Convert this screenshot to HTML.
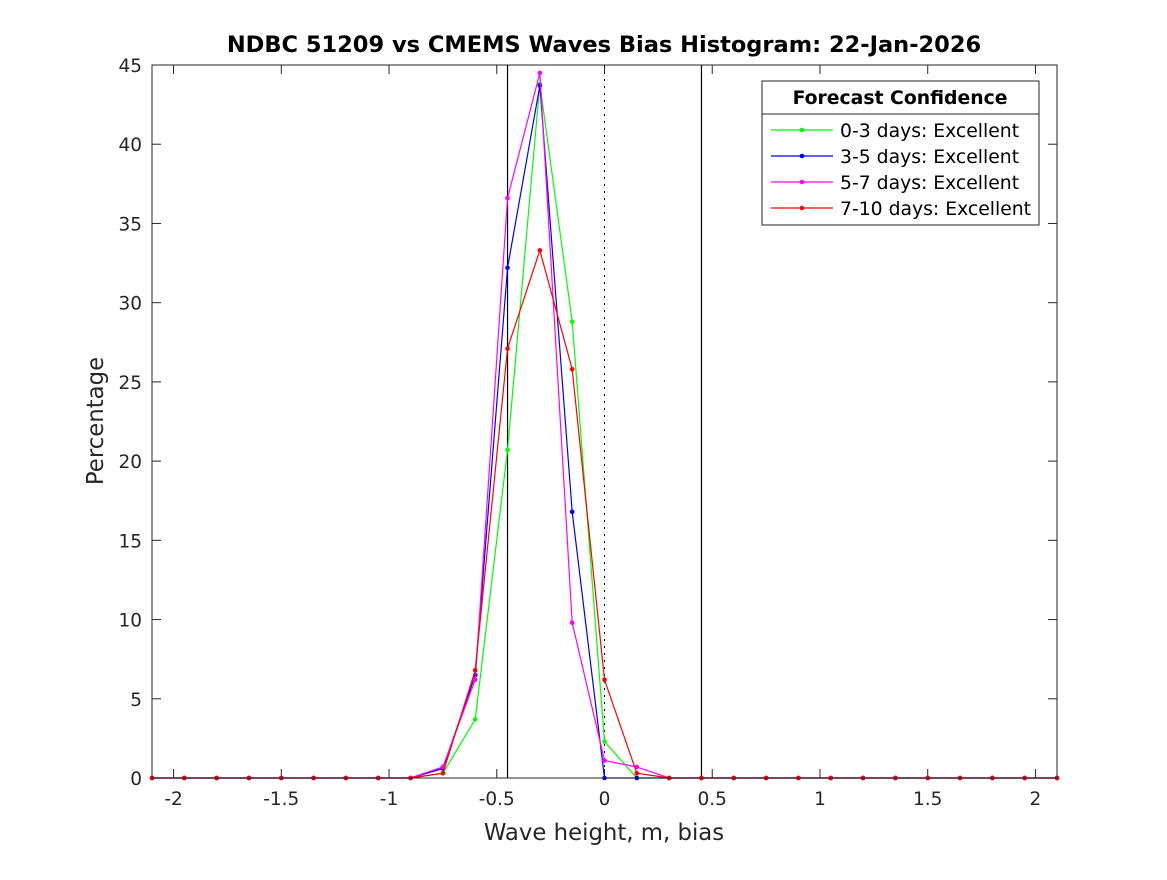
<!DOCTYPE html>
<html><head><meta charset="utf-8"><style>
body{margin:0;background:#fff}
svg text{font-family:"DejaVu Sans","Liberation Sans",sans-serif;fill:#262626}
</style></head><body>
<svg id="chart" width="1167" height="875" xmlns="http://www.w3.org/2000/svg">
<rect width="1167" height="875" fill="#fff"/>
<text x="604" y="52" text-anchor="middle" font-size="22.5" font-weight="bold" style="fill:#000">NDBC 51209 vs CMEMS Waves Bias Histogram: 22-Jan-2026</text>
<g id="ticks"></g>
<g id="series"></g>
<rect x="152" y="65" width="905" height="713" fill="none" stroke="#262626" stroke-width="1"/>
<text x="604" y="840" text-anchor="middle" font-size="22.8">Wave height, m, bias</text>
<text transform="translate(103,421) rotate(-90)" text-anchor="middle" font-size="22.8">Percentage</text>
<g>
<rect x="762" y="81" width="277" height="144" fill="#fff" stroke="#262626"/>
<line x1="762" y1="114" x2="1039" y2="114" stroke="#262626"/>
<text x="900" y="104" text-anchor="middle" font-size="18.8" font-weight="bold" style="fill:#000">Forecast Confidence</text>
<g id="legend-entries"></g>
</g>
</svg>
<script>
const xValues=[-2.1,-1.95,-1.8,-1.65,-1.5,-1.35,-1.2,-1.05,-0.9,-0.75,-0.6,-0.45,-0.3,-0.15,0,0.15,0.3,0.45,0.6,0.75,0.9,1.05,1.2,1.35,1.5,1.65,1.8,1.95,2.1];
const green=[0,0,0,0,0,0,0,0,0,0.3,3.7,20.7,43.8,28.8,2.3,0,0,0,0,0,0,0,0,0,0,0,0,0,0];
const blue=[0,0,0,0,0,0,0,0,0,0.6,6.5,32.2,43.7,16.8,0,0,0,0,0,0,0,0,0,0,0,0,0,0,0];
const magenta=[0,0,0,0,0,0,0,0,0,0.7,6.2,36.6,44.5,9.8,1.1,0.7,0,0,0,0,0,0,0,0,0,0,0,0,0];
const red=[0,0,0,0,0,0,0,0,0,0.3,6.8,27.1,33.3,25.8,6.2,0.3,0,0,0,0,0,0,0,0,0,0,0,0,0];
const seriesNames=["0-3 days: Excellent","3-5 days: Excellent","5-7 days: Excellent","7-10 days: Excellent"];
const xTicks=[-2,-1.5,-1,-0.5,0,0.5,1,1.5,2];
const xTickLabels=["-2","-1.5","-1","-0.5","0","0.5","1","1.5","2"];
const yTicks=[0,5,10,15,20,25,30,35,40,45];
const xMin=-2.1,xMax=2.1,yMin=0,yMax=45;
const L=152,R=1057,T=65,B=778;
const sx=v=>L+(v-xMin)/(xMax-xMin)*(R-L);
const sy=v=>B-(v-yMin)/(yMax-yMin)*(B-T);
const NS="http://www.w3.org/2000/svg";
function mk(tag,attrs,parent){const e=document.createElementNS(NS,tag);for(const k in attrs)e.setAttribute(k,attrs[k]);parent.appendChild(e);return e;}
const tg=document.getElementById('ticks');
xTicks.forEach((v,i)=>{
 const x=sx(v);
 let l=mk('line',{x1:x,y1:B,x2:x,y2:B-9,stroke:'#262626'},tg);
 
 
 l=mk('line',{x1:x,y1:T,x2:x,y2:T+9,stroke:'#262626'},tg);
 
 
 const t=mk('text',{x:x,y:B+27,'text-anchor':'middle','font-size':'18.5'},tg);
 t.textContent=xTickLabels[i];
 
 
});
yTicks.forEach(v=>{
 const y=sy(v);
 let l=mk('line',{x1:L,y1:y,x2:L+9,y2:y,stroke:'#262626'},tg);
 
 
 l=mk('line',{x1:R,y1:y,x2:R-9,y2:y,stroke:'#262626'},tg);
 
 
 const t=mk('text',{x:L-10,y:y+7,'text-anchor':'end','font-size':'18.5'},tg);
 t.textContent=String(v);
 
 
});
const sg=document.getElementById('series');
[-0.45,0.45].forEach(v=>{
 const l=mk('line',{x1:sx(v),y1:T,x2:sx(v),y2:B,stroke:'#000','stroke-width':1.2},sg);
 
 
});
const z=mk('line',{x1:sx(0),y1:T,x2:sx(0),y2:B,stroke:'#000','stroke-dasharray':'2,5'},sg);


const all=[green,blue,magenta,red];
const colors=['#00ff00','#0000ff','#ff00ff','#ff0000'];
const keys=['green','blue','magenta','red'];
all.forEach((arr,si)=>{
 const pts=arr.map((v,i)=>sx(xValues[i])+','+sy(v)).join(' ');
 const p=mk('polyline',{points:pts,fill:'none',stroke:colors[si],'stroke-width':1.2},sg);
 
 
 arr.forEach((v,i)=>{
  const c=mk('circle',{cx:sx(xValues[i]),cy:sy(v),r:2.3,fill:colors[si]},sg);
  
  
 });
});
const lg=document.getElementById('legend-entries');
seriesNames.forEach((n,i)=>{
 const y=130+26*i;
 const l=mk('line',{x1:771,y1:y,x2:833,y2:y,stroke:colors[i],'stroke-width':1.2},lg);
 
 
 const c=mk('circle',{cx:802,cy:y,r:2.3,fill:colors[i]},lg);
 
 
 const t=mk('text',{x:840,y:y+7,'font-size':'18.8'},lg);
 t.style.fill='#000';
 t.textContent=n;
 
 
});
</script>
</body></html>
